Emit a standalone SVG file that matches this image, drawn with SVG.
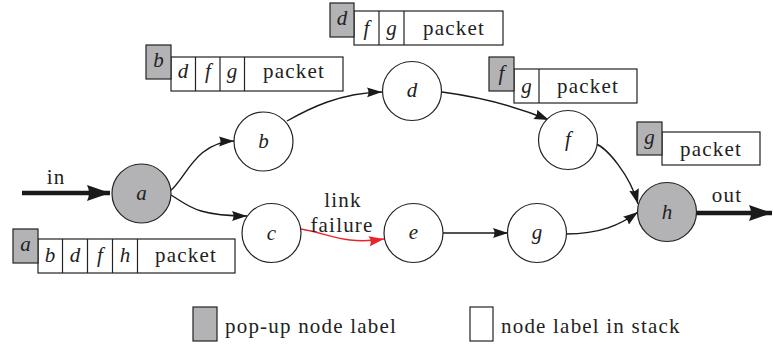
<svg xmlns="http://www.w3.org/2000/svg" width="773" height="344" viewBox="0 0 773 344">
<defs>
<marker id="ah" markerUnits="userSpaceOnUse" markerWidth="16" markerHeight="12" refX="15" refY="5" orient="auto">
<path d="M0,0 L15,5 L0,10 Q3,5 0,0 z" fill="#1a1a1a"/>
</marker>
<marker id="ahr" markerUnits="userSpaceOnUse" markerWidth="16" markerHeight="12" refX="15" refY="5" orient="auto">
<path d="M0,0 L15,5 L0,10 Q3,5 0,0 z" fill="#e8262a"/>
</marker>
<marker id="ahb" markerUnits="userSpaceOnUse" markerWidth="24" markerHeight="18" refX="23" refY="8" orient="auto">
<path d="M0,0 L23,8 L0,16 Q4,8 0,0 z" fill="#1a1a1a"/>
</marker>
</defs>
<rect width="773" height="344" fill="#fff"/>
<g id="connectors" fill="none">
<path stroke="#1a1a1a" stroke-width="4.5" d="M22,193 L110,193" marker-end="url(#ahb)"/>
<path stroke="#1a1a1a" stroke-width="4.5" d="M696,213 L772,213" marker-end="url(#ahb)"/>
<path stroke="#1a1a1a" stroke-width="1.4" d="M170,191 C185,180 195,142 234,141" marker-end="url(#ah)"/>
<path stroke="#1a1a1a" stroke-width="1.4" d="M171,195 C188,205 195,216 247,216" marker-end="url(#ah)"/>
<path stroke="#1a1a1a" stroke-width="1.4" d="M287,121 C310,108 340,93 382,92" marker-end="url(#ah)"/>
<path stroke="#1a1a1a" stroke-width="1.4" d="M442,92 C480,97 520,108 549,120" marker-end="url(#ah)"/>
<path stroke="#1a1a1a" stroke-width="1.4" d="M596,144 C607,148 630,175 638,204" marker-end="url(#ah)"/>
<path stroke="#1a1a1a" stroke-width="1.4" d="M566,234 C600,234 620,225 638,212" marker-end="url(#ah)"/>
<path stroke="#1a1a1a" stroke-width="1.4" d="M443,233 L508,233" marker-end="url(#ah)"/>
<path stroke="#e8262a" stroke-width="1.4" d="M301,229 C330,234 345,245 384,239" marker-end="url(#ahr)"/>
<text font-family="Liberation Serif" font-size="21" fill="#222" letter-spacing="1.2" x="56" y="184" text-anchor="middle">in</text>
<text font-family="Liberation Serif" font-size="21" fill="#222" letter-spacing="1.2" x="727" y="202" text-anchor="middle">out</text>
<text font-family="Liberation Serif" font-size="21" fill="#222" letter-spacing="1.2" x="343" y="207" text-anchor="middle">link</text>
<text font-family="Liberation Serif" font-size="21" fill="#222" letter-spacing="1.2" x="342" y="232" text-anchor="middle">failure</text>
</g>

<g id="node-a"><circle fill="#b3b3b5" stroke="#222" stroke-width="1.2" cx="141.5" cy="193.5" r="29.5"/><text font-family="Liberation Serif" font-size="21" font-style="italic" fill="#222" x="141.5" y="200" text-anchor="middle">a</text></g>
<g id="node-b"><circle fill="#fff" stroke="#222" stroke-width="1.2" cx="263.5" cy="141.5" r="29.5"/><text font-family="Liberation Serif" font-size="21" font-style="italic" fill="#222" x="263.5" y="148" text-anchor="middle">b</text></g>
<g id="node-c"><circle fill="#fff" stroke="#222" stroke-width="1.2" cx="271.5" cy="233" r="29.5"/><text font-family="Liberation Serif" font-size="21" font-style="italic" fill="#222" x="271.5" y="240" text-anchor="middle">c</text></g>
<g id="node-d"><circle fill="#fff" stroke="#222" stroke-width="1.2" cx="412" cy="91" r="29.5"/><text font-family="Liberation Serif" font-size="21" font-style="italic" fill="#222" x="412" y="97" text-anchor="middle">d</text></g>
<g id="node-e"><circle fill="#fff" stroke="#222" stroke-width="1.2" cx="413.5" cy="233" r="29.5"/><text font-family="Liberation Serif" font-size="21" font-style="italic" fill="#222" x="413.5" y="239" text-anchor="middle">e</text></g>
<g id="node-f"><circle fill="#fff" stroke="#222" stroke-width="1.2" cx="568" cy="140" r="29.5"/><text font-family="Liberation Serif" font-size="21" font-style="italic" fill="#222" x="568" y="146" text-anchor="middle">f</text></g>
<g id="node-g"><circle fill="#fff" stroke="#222" stroke-width="1.2" cx="537" cy="233" r="29.5"/><text font-family="Liberation Serif" font-size="21" font-style="italic" fill="#222" x="537" y="239" text-anchor="middle">g</text></g>
<g id="node-h"><circle fill="#b3b3b5" stroke="#222" stroke-width="1.2" cx="667" cy="212" r="29.5"/><text font-family="Liberation Serif" font-size="21" font-style="italic" fill="#222" x="667" y="219" text-anchor="middle">h</text></g>

<g id="stack-a" stroke-width="1.2">
<rect fill="#fff" stroke="#222" x="38" y="239" width="197" height="34"/>
<path stroke="#222" d="M62.5,239V273M87.5,239V273M112.5,239V273M137.5,239V273"/>
<rect fill="#b3b3b5" stroke="#222" x="13" y="229" width="25" height="34"/>
<text font-family="Liberation Serif" font-size="21" font-style="italic" fill="#222" x="25.5" y="251" text-anchor="middle">a</text>
<text font-family="Liberation Serif" font-size="21" font-style="italic" fill="#222" x="50" y="262" text-anchor="middle">b</text>
<text font-family="Liberation Serif" font-size="21" font-style="italic" fill="#222" x="75" y="262" text-anchor="middle">d</text>
<text font-family="Liberation Serif" font-size="21" font-style="italic" fill="#222" x="100" y="262" text-anchor="middle">f</text>
<text font-family="Liberation Serif" font-size="21" font-style="italic" fill="#222" x="125" y="262" text-anchor="middle">h</text>
<text font-family="Liberation Serif" font-size="21" fill="#222" letter-spacing="1.2" x="186" y="262" text-anchor="middle">packet</text>
</g>

<g id="stack-b" stroke-width="1.2">
<rect fill="#fff" stroke="#222" x="171" y="57" width="172" height="34"/>
<path stroke="#222" d="M195.5,57V91M220,57V91M244.5,57V91"/>
<rect fill="#b3b3b5" stroke="#222" x="146" y="45" width="25" height="34"/>
<text font-family="Liberation Serif" font-size="21" font-style="italic" fill="#222" x="158.5" y="67" text-anchor="middle">b</text>
<text font-family="Liberation Serif" font-size="21" font-style="italic" fill="#222" x="183" y="78" text-anchor="middle">d</text>
<text font-family="Liberation Serif" font-size="21" font-style="italic" fill="#222" x="208" y="78" text-anchor="middle">f</text>
<text font-family="Liberation Serif" font-size="21" font-style="italic" fill="#222" x="232" y="78" text-anchor="middle">g</text>
<text font-family="Liberation Serif" font-size="21" fill="#222" letter-spacing="1.2" x="294" y="78" text-anchor="middle">packet</text>
</g>

<g id="stack-d" stroke-width="1.2">
<rect fill="#fff" stroke="#222" x="354" y="11" width="149" height="34"/>
<path stroke="#222" d="M379,11V45M404,11V45"/>
<rect fill="#b3b3b5" stroke="#222" x="330" y="3" width="24" height="34"/>
<text font-family="Liberation Serif" font-size="21" font-style="italic" fill="#222" x="342" y="25" text-anchor="middle">d</text>
<text font-family="Liberation Serif" font-size="21" font-style="italic" fill="#222" x="366.5" y="35" text-anchor="middle">f</text>
<text font-family="Liberation Serif" font-size="21" font-style="italic" fill="#222" x="391.5" y="35" text-anchor="middle">g</text>
<text font-family="Liberation Serif" font-size="21" fill="#222" letter-spacing="1.2" x="454" y="35" text-anchor="middle">packet</text>
</g>

<g id="stack-f" stroke-width="1.2">
<rect fill="#fff" stroke="#222" x="514" y="69" width="123" height="34"/>
<path stroke="#222" d="M539,69V103"/>
<rect fill="#b3b3b5" stroke="#222" x="489" y="57" width="25" height="34"/>
<text font-family="Liberation Serif" font-size="21" font-style="italic" fill="#222" x="501.5" y="80" text-anchor="middle">f</text>
<text font-family="Liberation Serif" font-size="21" font-style="italic" fill="#222" x="526.5" y="93" text-anchor="middle">g</text>
<text font-family="Liberation Serif" font-size="21" fill="#222" letter-spacing="1.2" x="588" y="93" text-anchor="middle">packet</text>
</g>

<g id="stack-g" stroke-width="1.2">
<rect fill="#fff" stroke="#222" x="662" y="132" width="98" height="33"/>
<rect fill="#b3b3b5" stroke="#222" x="637" y="122" width="25" height="33"/>
<text font-family="Liberation Serif" font-size="21" font-style="italic" fill="#222" x="649.5" y="144" text-anchor="middle">g</text>
<text font-family="Liberation Serif" font-size="21" fill="#222" letter-spacing="1.2" x="711" y="156" text-anchor="middle">packet</text>
</g>

<g id="legend" stroke-width="1.2">
<rect fill="#b3b3b5" stroke="#222" x="193" y="307" width="24" height="34"/>
<text font-family="Liberation Serif" font-size="21" fill="#222" letter-spacing="1.2" x="225" y="333">pop-up node label</text>
<rect fill="#fff" stroke="#222" x="470" y="307" width="23" height="34"/>
<text font-family="Liberation Serif" font-size="21" fill="#222" letter-spacing="1.2" x="501" y="333">node label in stack</text>
</g>
</svg>
